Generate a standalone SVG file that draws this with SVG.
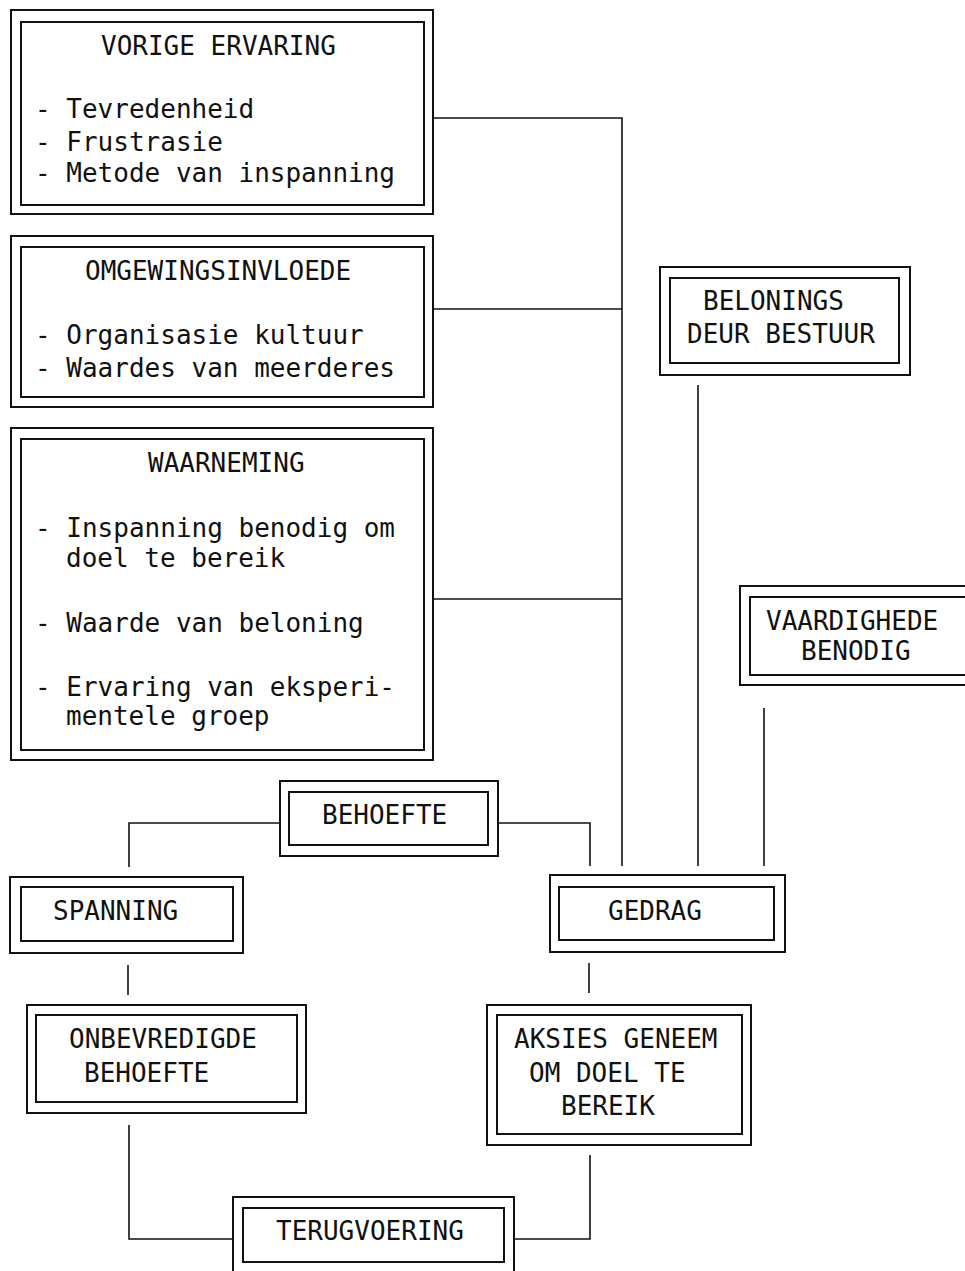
<svg xmlns="http://www.w3.org/2000/svg" width="965" height="1271" viewBox="0 0 965 1271">
<style>
.bx{fill:none;stroke:#111;stroke-width:2}
.cn{fill:none;stroke:#111;stroke-width:1.6}
text{font-family:"DejaVu Sans Mono","Liberation Mono",monospace;font-size:26px;fill:#111}
</style>
<rect width="965" height="1271" fill="#fff"/>
<g id="connectors">
<polyline class="cn" points="433,118 622,118 622,866"/>
<line class="cn" x1="433" y1="309" x2="622" y2="309"/>
<line class="cn" x1="433" y1="599" x2="622" y2="599"/>
<line class="cn" x1="698" y1="385" x2="698" y2="866"/>
<line class="cn" x1="764" y1="708" x2="764" y2="866"/>
<polyline class="cn" points="280,823 129,823 129,867"/>
<polyline class="cn" points="498,823 590,823 590,866"/>
<line class="cn" x1="128" y1="965" x2="128" y2="995"/>
<line class="cn" x1="589" y1="963" x2="589" y2="993"/>
<polyline class="cn" points="129,1125 129,1239 233,1239"/>
<polyline class="cn" points="514,1239 590,1239 590,1155"/>
</g>
<g id="vorige">
<rect class="bx" x="11" y="10" width="422" height="204"/>
<rect class="bx" x="21" y="22" width="403" height="183"/>
<text x="101" y="55">VORIGE ERVARING</text>
<text x="35" y="118">- Tevredenheid</text>
<text x="35" y="151">- Frustrasie</text>
<text x="35" y="182">- Metode van inspanning</text>
</g>
<g id="omgewing">
<rect class="bx" x="11" y="236" width="422" height="171"/>
<rect class="bx" x="21" y="247" width="403" height="150"/>
<text x="85" y="280">OMGEWINGSINVLOEDE</text>
<text x="35" y="344">- Organisasie kultuur</text>
<text x="35" y="377">- Waardes van meerderes</text>
</g>
<g id="waarneming">
<rect class="bx" x="11" y="428" width="422" height="332"/>
<rect class="bx" x="21" y="439" width="403" height="311"/>
<text x="148" y="472">WAARNEMING</text>
<text x="35" y="537">- Inspanning benodig om</text>
<text x="66" y="567">doel te bereik</text>
<text x="35" y="632">- Waarde van beloning</text>
<text x="35" y="696">- Ervaring van eksperi-</text>
<text x="66" y="725">mentele groep</text>
</g>
<g id="belonings">
<rect class="bx" x="660" y="267" width="250" height="108"/>
<rect class="bx" x="670" y="278" width="229" height="85"/>
<text x="703" y="310">BELONINGS</text>
<text x="687" y="343">DEUR BESTUUR</text>
</g>
<g id="vaardighede">
<rect class="bx" x="740" y="586" width="240" height="99"/>
<rect class="bx" x="750" y="597" width="225" height="78"/>
<text x="766" y="630">VAARDIGHEDE</text>
<text x="801" y="660">BENODIG</text>
</g>
<g id="behoefte">
<rect class="bx" x="280" y="781" width="218" height="75"/>
<rect class="bx" x="289" y="792" width="199" height="53"/>
<text x="322" y="824">BEHOEFTE</text>
</g>
<g id="spanning">
<rect class="bx" x="10" y="877" width="233" height="76"/>
<rect class="bx" x="21" y="887" width="212" height="54"/>
<text x="53" y="920">SPANNING</text>
</g>
<g id="gedrag">
<rect class="bx" x="550" y="875" width="235" height="77"/>
<rect class="bx" x="559" y="887" width="215" height="53"/>
<text x="608" y="920">GEDRAG</text>
</g>
<g id="onbevredigde">
<rect class="bx" x="27" y="1005" width="279" height="108"/>
<rect class="bx" x="36" y="1015" width="261" height="87"/>
<text x="69" y="1048">ONBEVREDIGDE</text>
<text x="84" y="1082">BEHOEFTE</text>
</g>
<g id="aksies">
<rect class="bx" x="487" y="1005" width="264" height="140"/>
<rect class="bx" x="497" y="1015" width="245" height="119"/>
<text x="514" y="1048">AKSIES GENEEM</text>
<text x="529" y="1082">OM DOEL TE</text>
<text x="561" y="1115">BEREIK</text>
</g>
<g id="terugvoering">
<rect class="bx" x="233" y="1197" width="281" height="85"/>
<rect class="bx" x="243" y="1208" width="261" height="54"/>
<text x="276" y="1240">TERUGVOERING</text>
</g>
</svg>
